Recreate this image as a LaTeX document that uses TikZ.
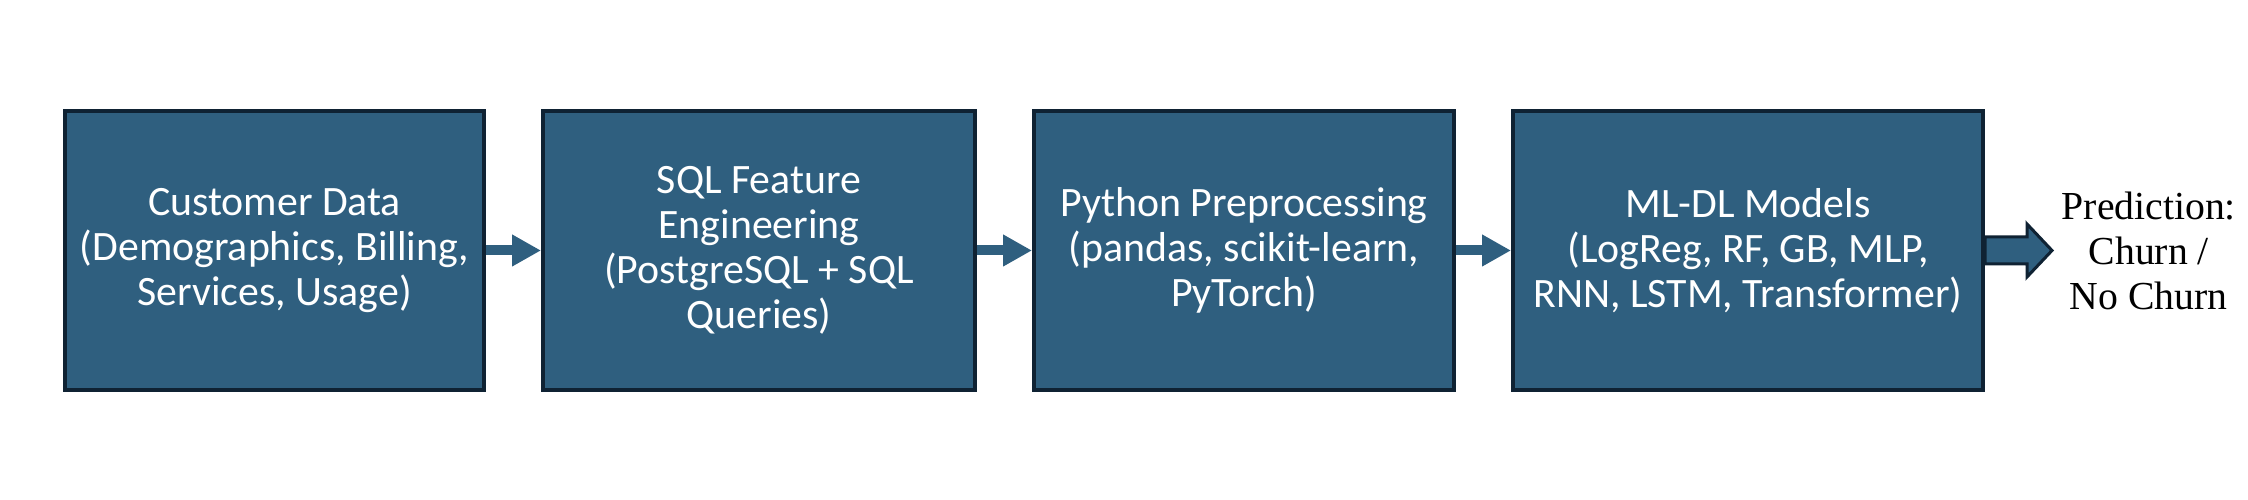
\documentclass[tikz,border=0pt]{standalone}
\usepackage{fontspec}
\usetikzlibrary{arrows.meta,positioning,calc}
\newfontfamily\boxfont{Carlito}
\newfontfamily\predfont{Liberation Serif}
\definecolor{stagefill}{HTML}{2F5F7F}
\definecolor{stageline}{HTML}{0F2233}

\begin{document}
\begin{tikzpicture}[>={Triangle[width=3mm,length=2.9mm]}, node distance=5.5mm,
  stage/.style={draw=stageline, line width=0.4mm, fill=stagefill, text=white, align=center,
    minimum height=27.9mm, inner sep=1mm, font=\boxfont\fontsize{11.9}{12.8}\selectfont},
  flow/.style={->, draw=stagefill, line width=1mm}]
  \useasboundingbox (0,0) rectangle (22.48,5);
  \node[stage, minimum width=41.9mm] (m1) at (2.745,2.495) {Customer Data\\(Demographics, Billing,\\Services, Usage)};
  \node[stage, minimum width=43.2mm, right=of m1] (m2) {SQL Feature\\Engineering\\(PostgreSQL + SQL\\Queries)};
  \node[stage, minimum width=42mm, right=of m2] (m3) {Python Preprocessing\\(pandas, scikit-learn,\\PyTorch)};
  \node[stage, minimum width=47mm, right=of m3] (m4) {ML-DL Models\\(LogReg, RF, GB, MLP,\\RNN, LSTM, Transformer)};
  \draw[flow] (m1) -- (m2);
  \draw[flow] (m2) -- (m3);
  \draw[flow] (m3) -- (m4);
  % outlined block arrow to the result
  \coordinate (tip) at ($(m4.east)+(0.67,0)$);
  \draw[stageline, line width=0.3mm, fill=stagefill] ($(m4.east)+(0,0.135)$) -- ++(0.42,0) -- ++(0,0.13)
    -- (tip) -- ($(m4.east)+(0.42,-0.265)$) -- ++(0,0.13) -- ($(m4.east)+(0,-0.135)$) -- cycle;
  \node[right=0.9mm of tip, inner sep=0, align=center, font=\predfont\fontsize{11.3}{12.8}\selectfont] (pred) {Prediction:\\Churn /\\No Churn};
\end{tikzpicture}
\end{document}
